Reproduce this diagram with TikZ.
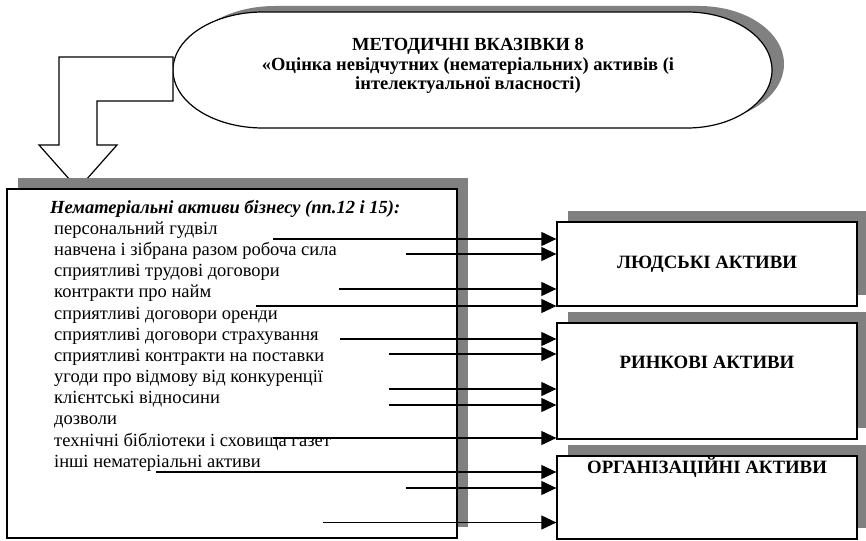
\documentclass[tikz,border=0pt]{standalone}
\usepackage{fontspec}
\setmainfont{Liberation Serif}
\usetikzlibrary{arrows.meta,shadows}
\definecolor{shadowgray}{RGB}{128,128,128}
\begin{document}
\begin{tikzpicture}[x=1pt,y=1pt,
  box/.style={draw=black,line width=1.3pt,fill=white,inner sep=0pt,
    drop shadow={shadow xshift=11pt,shadow yshift=11pt,fill=shadowgray,opacity=1}},
  item/.style={anchor=base west,inner sep=0pt,font=\fontsize{18.5}{21}\selectfont},
  lab/.style={inner sep=0pt,font=\fontsize{18.8}{21}\selectfont\bfseries},
  arr/.style={line width=1.1pt,-{Triangle[length=15pt,width=14pt]}},
  outl/.style={line width=1.2pt}]
\useasboundingbox (0,0) rectangle (866,-540);

% oval title shape with shadow
\fill[shadowgray,shift={(12,6)}] (263,-12) -- (687,-12)
  arc[start angle=90,end angle=-90,x radius=85,y radius=58] -- (263,-128)
  arc[start angle=270,end angle=90,x radius=90,y radius=58] -- cycle;
\draw[outl,fill=white] (263,-12) -- (687,-12)
  arc[start angle=90,end angle=-90,x radius=85,y radius=58] -- (263,-128)
  arc[start angle=270,end angle=90,x radius=90,y radius=58] -- cycle;
\node[align=center,inner sep=0pt,font=\fontsize{18.5}{19.5}\selectfont\bfseries] (title) at (468,-66)
  {МЕТОДИЧНІ ВКАЗІВКИ 8\\«Оцінка невідчутних (нематеріальних) активів (і\\інтелектуальної власності)};

% bent block arrow
\draw[outl,fill=white] (173,-57) -- (59,-57) -- (59,-145) -- (39,-145) -- (78,-189)
  -- (117,-145) -- (97,-145) -- (97,-101) -- (173,-101) -- cycle;

% main box
\node[box,minimum width=450pt,minimum height=349pt] (main) at (232,-363.5) {};
\node[item,font=\fontsize{18.5}{21}\selectfont\bfseries\itshape] (head) at (50,-213)
  {Нематеріальні активи бізнесу (пп.12 і 15):};
\foreach \t [count=\i] in {персональний гудвіл,
  навчена і зібрана разом робоча сила,
  сприятливі трудові договори,
  контракти про найм,
  сприятливі договори оренди,
  сприятливі договори страхування,
  сприятливі контракти на поставки,
  угоди про відмову від конкуренції,
  клієнтські відносини,
  дозволи,
  технічні бібліотеки і сховища газет,
  інші нематеріальні активи}
  \node[item] (it\i) at (54,{-234.5-21.15*(\i-1)}) {\t};

% right boxes
\node[box,minimum width=300pt,minimum height=84pt] (b1) at (707,-264) {};
\node[box,minimum width=300pt,minimum height=116pt] (b2) at (707,-381) {};
\node[box,minimum width=300pt,minimum height=83pt] (b3) at (707,-497.5) {};
\node[lab] (l1) at (b1.center) {ЛЮДСЬКІ АКТИВИ};
\node[lab] (l2) at ([yshift=-40pt]b2.north) {РИНКОВІ АКТИВИ};
\node[lab] (l3) at ([yshift=-12pt]b3.north) {ОРГАНІЗАЦІЙНІ АКТИВИ};

% arrow start points
\coordinate (a1) at (273,-239);
\coordinate (a2) at (406,-254);
\coordinate (a3) at (339,-289);
\coordinate (a4) at (256,-306);
\coordinate (a5) at (340,-339);
\coordinate (a6) at (389,-354);
\coordinate (a7) at (389,-389);
\coordinate (a8) at (389,-405);
\coordinate (a9) at (273,-438);
\coordinate (a10) at (156,-472);
\coordinate (a11) at (406,-488);
\coordinate (a12) at (323,-522.5);
\foreach \i in {1,2,3,4} \draw[arr] (a\i) -- (a\i -| b1.west);
\foreach \i in {5,6,7,8,9} \draw[arr] (a\i) -- (a\i -| b2.west);
\foreach \i in {10,11,12} \draw[arr] (a\i) -- (a\i -| b3.west);
\end{tikzpicture}
\end{document}
